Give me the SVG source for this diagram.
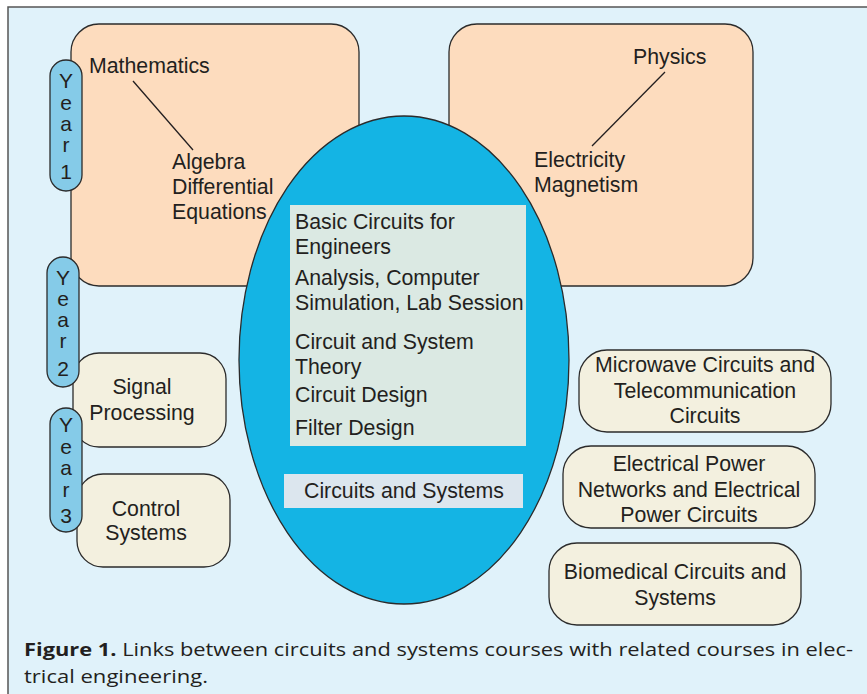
<svg xmlns="http://www.w3.org/2000/svg" width="867" height="694" viewBox="0 0 867 694">
<style>
.t{font-family:"Liberation Sans",Arial,sans-serif;font-size:21.3px;fill:#231f20}
.c{text-anchor:middle}
.y{font-family:"Liberation Sans",Arial,sans-serif;font-size:21px;fill:#231f20;text-anchor:middle}
.peach{fill:#fddcbe;stroke:#2b2b2b;stroke-width:1.3}
.cream{fill:#f3f0df;stroke:#2b2b2b;stroke-width:1.3}
.pill{fill:#85cbe8;stroke:#2b2b2b;stroke-width:1.3}
.ln{stroke:#231f20;stroke-width:1.3;fill:none}
.cap{font-family:"Open Sans","Liberation Sans",sans-serif;font-size:18px;fill:#231f20}
</style>
<rect x="0" y="0" width="867" height="694" fill="#ffffff"/>
<rect x="8" y="7" width="900" height="700" fill="#e0f2fa" stroke="#555" stroke-width="1.5"/>

<g id="mathematics">
<rect class="peach" x="71" y="24" width="288" height="262" rx="28"/>
<text class="t" x="89" y="73">Mathematics</text>
<text class="t" x="172" y="169">Algebra</text>
<text class="t" x="172" y="194">Differential</text>
<text class="t" x="172" y="219">Equations</text>
</g>
<g id="physics">
<rect class="peach" x="449" y="24" width="304" height="262" rx="28"/>
<text class="t" x="633" y="64">Physics</text>
<text class="t" x="534" y="167">Electricity</text>
<text class="t" x="534" y="192">Magnetism</text>
</g>
<g id="signal-processing">
<rect class="cream" x="73" y="353" width="153" height="94" rx="26"/>
<text class="t c" x="142" y="394">Signal</text>
<text class="t c" x="142" y="420">Processing</text>
</g>
<g id="control-systems">
<rect class="cream" x="77" y="474" width="153" height="93" rx="26"/>
<text class="t c" x="146" y="516">Control</text>
<text class="t c" x="146" y="540">Systems</text>
</g>
<g id="year1">
<rect class="pill" x="50" y="60" width="32" height="131" rx="16"/>
<text class="y" x="66" y="88">Y</text>
<text class="y" x="66" y="110">e</text>
<text class="y" x="66" y="131">a</text>
<text class="y" x="66" y="152">r</text>
<text class="y" x="66" y="179">1</text>
</g>
<g id="year2">
<rect class="pill" x="47" y="257" width="32" height="130" rx="16"/>
<text class="y" x="63" y="285">Y</text>
<text class="y" x="63" y="306">e</text>
<text class="y" x="63" y="327">a</text>
<text class="y" x="63" y="348">r</text>
<text class="y" x="63" y="376">2</text>
</g>
<g id="year3">
<rect class="pill" x="50" y="408" width="32" height="124" rx="16"/>
<text class="y" x="66" y="432">Y</text>
<text class="y" x="66" y="454">e</text>
<text class="y" x="66" y="475">a</text>
<text class="y" x="66" y="497">r</text>
<text class="y" x="66" y="523">3</text>
</g>
<g id="circuits-and-systems">
<ellipse cx="404" cy="360" rx="165" ry="244" fill="#14b4e4" stroke="#2b2b2b" stroke-width="1.3"/>
<rect x="290" y="205" width="236" height="241" fill="#dbe9e3"/>
<text class="t" x="295" y="229">Basic Circuits for</text>
<text class="t" x="295" y="254">Engineers</text>
<text class="t" x="295" y="285">Analysis, Computer</text>
<text class="t" x="295" y="310">Simulation, Lab Session</text>
<text class="t" x="295" y="349">Circuit and System</text>
<text class="t" x="295" y="374">Theory</text>
<text class="t" x="295" y="402">Circuit Design</text>
<text class="t" x="295" y="435">Filter Design</text>
<rect x="284" y="474" width="239" height="34" fill="#dce6ee"/>
<text class="t" x="304" y="498">Circuits and Systems</text>
</g>
<g id="microwave">
<rect class="cream" x="579" y="350" width="252" height="82" rx="28"/>
<text class="t c" x="705" y="372">Microwave Circuits and</text>
<text class="t c" x="705" y="398">Telecommunication</text>
<text class="t c" x="705" y="423">Circuits</text>
</g>
<g id="power">
<rect class="cream" x="563" y="446" width="252" height="82" rx="28"/>
<text class="t c" x="689" y="471">Electrical Power</text>
<text class="t c" x="689" y="497">Networks and Electrical</text>
<text class="t c" x="689" y="522">Power Circuits</text>
</g>
<g id="biomedical">
<rect class="cream" x="549" y="543" width="252" height="82" rx="28"/>
<text class="t c" x="675" y="579">Biomedical Circuits and</text>
<text class="t c" x="675" y="605">Systems</text>
</g>
<g id="connectors">
<line class="ln" x1="133" y1="81" x2="193" y2="150"/>
<line class="ln" x1="665" y1="72" x2="592" y2="146"/>
</g>
<g id="caption">
<text class="cap" x="24" y="656" textLength="829" lengthAdjust="spacingAndGlyphs"><tspan font-weight="bold">Figure 1.</tspan> Links between circuits and systems courses with related courses in elec-</text>
<text class="cap" x="24" y="683" textLength="184" lengthAdjust="spacingAndGlyphs">trical engineering.</text>
</g>
</svg>
